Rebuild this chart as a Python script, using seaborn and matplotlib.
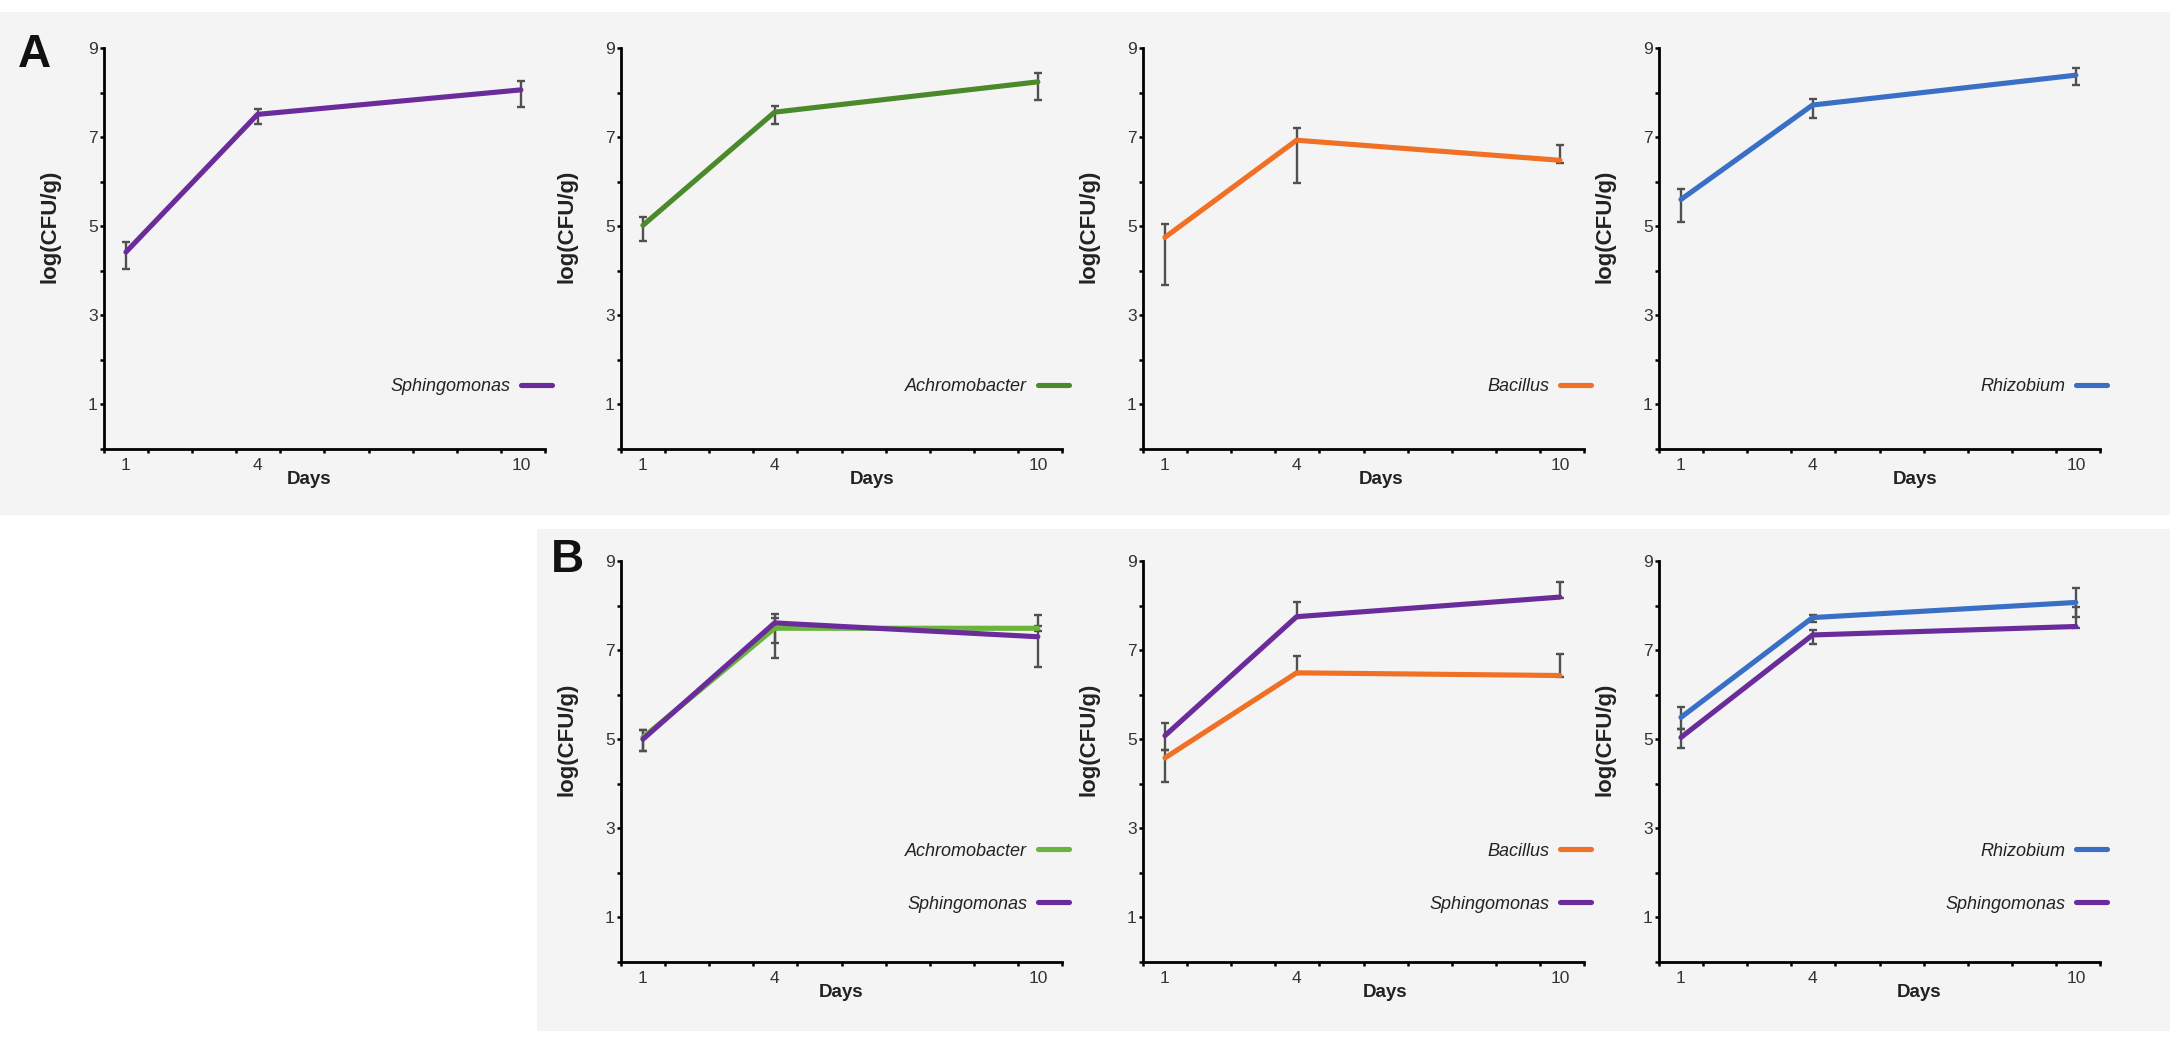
import matplotlib
matplotlib.use("Agg")
import matplotlib.pyplot as plt
import seaborn as sns
import numpy as np
import pandas as pd
from matplotlib.patches import Rectangle

# ---------------- data ----------------
days = [1, 4, 10]
x_tick_labels = ["1", "4", "10"]
y_tick_values = [1, 3, 5, 7, 9]

# Panel A (single strains)
sph_A = [4.42, 7.51, 8.06]
sph_A_lo = [0.37, 0.21, 0.39]
sph_A_hi = [0.23, 0.12, 0.21]

ach_A = [5.02, 7.56, 8.24]
ach_A_lo = [0.35, 0.27, 0.40]
ach_A_hi = [0.19, 0.13, 0.21]

bac_A = [4.75, 6.93, 6.48]
bac_A_lo = [1.06, 0.95, 0.05]
bac_A_hi = [0.29, 0.27, 0.35]

rhi_A = [5.60, 7.72, 8.39]
rhi_A_lo = [0.51, 0.28, 0.23]
rhi_A_hi = [0.24, 0.13, 0.15]

# Panel B (co-cultures with Sphingomonas)
ach_B1 = [5.04, 7.49, 7.49]
ach_B1_lo = [0.30, 0.67, 0.06]
ach_B1_hi = [0.16, 0.24, 0.06]
sph_B1 = [5.00, 7.61, 7.30]
sph_B1_lo = [0.26, 0.44, 0.67]
sph_B1_hi = [0.20, 0.21, 0.48]

bac_B2 = [4.58, 6.49, 6.43]
bac_B2_lo = [0.54, 0.03, 0.03]
bac_B2_hi = [0.18, 0.37, 0.48]
sph_B2 = [5.08, 7.75, 8.19]
sph_B2_lo = [0.32, 0.03, 0.03]
sph_B2_hi = [0.28, 0.32, 0.33]

rhi_B3 = [5.49, 7.73, 8.07]
rhi_B3_lo = [0.26, 0.11, 0.32]
rhi_B3_hi = [0.23, 0.06, 0.32]
sph_B3 = [5.04, 7.34, 7.53]
sph_B3_lo = [0.24, 0.21, 0.03]
sph_B3_hi = [0.19, 0.11, 0.43]

PURPLE = "#6a2c9b"
GREEN_A = "#4a8a2c"
GREEN_B = "#6ab43c"
ORANGE = "#f07126"
BLUE = "#3a6fc6"
BG = "#f4f4f4"
ERR = "#505050"

# ---------------- figure ----------------
sns.set_theme(style="ticks")
plt.rcParams["font.family"] = ["Liberation Sans", "DejaVu Sans"]

W, H = 2170, 1048
fig = plt.figure(figsize=(W / 100, H / 100), dpi=100, facecolor="white")

fig.patches.append(Rectangle((0, 1 - 515 / H), 1, (515 - 12) / H,
                             transform=fig.transFigure, facecolor=BG,
                             edgecolor="none", zorder=-10))
fig.patches.append(Rectangle((537 / W, 1 - 1031 / H), 1 - 537 / W, (1031 - 529) / H,
                             transform=fig.transFigure, facecolor=BG,
                             edgecolor="none", zorder=-10))

AX_W, AX_H = 441, 401
XLIM = (0.5, 10.55)

panels = [
    # left px, top px, xlabel frac, legend y0, series
    (104, 48, 0.465, 0.135, [("Sphingomonas", sph_A, sph_A_lo, sph_A_hi, PURPLE)]),
    (621, 48, 0.57, 0.135, [("Achromobacter", ach_A, ach_A_lo, ach_A_hi, GREEN_A)]),
    (1143, 48, 0.54, 0.135, [("Bacillus", bac_A, bac_A_lo, bac_A_hi, ORANGE)]),
    (1659, 48, 0.58, 0.135, [("Rhizobium", rhi_A, rhi_A_lo, rhi_A_hi, BLUE)]),
    (621, 561, 0.50, 0.123, [("Achromobacter", ach_B1, ach_B1_lo, ach_B1_hi, GREEN_B),
                             ("Sphingomonas", sph_B1, sph_B1_lo, sph_B1_hi, PURPLE)]),
    (1143, 561, 0.55, 0.123, [("Bacillus", bac_B2, bac_B2_lo, bac_B2_hi, ORANGE),
                              ("Sphingomonas", sph_B2, sph_B2_lo, sph_B2_hi, PURPLE)]),
    (1659, 561, 0.59, 0.123, [("Rhizobium", rhi_B3, rhi_B3_lo, rhi_B3_hi, BLUE),
                              ("Sphingomonas", sph_B3, sph_B3_lo, sph_B3_hi, PURPLE)]),
]

for left, top, xlab_frac, leg_y0, series in panels:
    ax = fig.add_axes([left / W, 1 - (top + AX_H) / H, AX_W / W, AX_H / H])
    ax.set_facecolor("none")
    ax.set_zorder(5)

    names = [s[0] for s in series]
    df = pd.DataFrame({
        "Days": [d for s in series for d in days],
        "value": [v for s in series for v in s[1]],
        "species": [s[0] for s in series for _ in days],
    })
    sns.lineplot(data=df, x="Days", y="value", hue="species", hue_order=names,
                 palette={s[0]: s[4] for s in series}, errorbar=None,
                 linewidth=3.7, solid_capstyle="round", legend=False,
                 ax=ax, zorder=3)
    for name, vals, lo, hi, col in series:
        ax.errorbar(days, vals, yerr=[lo, hi], fmt="none", ecolor=ERR,
                    elinewidth=1.7, capsize=2.8, capthick=1.7, zorder=2)

    handles = list(ax.lines[:len(series)])
    ax.legend(handles, names, loc="lower right", bbox_to_anchor=(1.015, leg_y0),
              frameon=False, markerfirst=False,
              prop=dict(style="italic", size=13), labelcolor="#222222",
              handlelength=1.7, handletextpad=0.6, labelspacing=2.0,
              borderpad=0, borderaxespad=0)

    ax.set_xlim(*XLIM)
    ax.set_ylim(0, 9)
    ax.set_xticks(days)
    ax.set_xticklabels(x_tick_labels)
    ax.set_xticks(np.linspace(XLIM[0], XLIM[1], 11), minor=True)
    ax.set_yticks(y_tick_values)
    ax.set_yticks([0, 2, 4, 6, 8], minor=True)
    ax.tick_params(axis="x", which="major", length=0, pad=6.5,
                   labelsize=12.5, labelcolor="#333333")
    ax.tick_params(axis="x", which="minor", length=3, width=1.8,
                   direction="out", color="black")
    ax.tick_params(axis="y", which="both", length=3, width=1.8, pad=1.5,
                   direction="out", color="black",
                   labelsize=12.5, labelcolor="#333333")
    for sp in ("top", "right"):
        ax.spines[sp].set_visible(False)
    for sp in ("left", "bottom"):
        ax.spines[sp].set_linewidth(2.0)
        ax.spines[sp].set_color("black")

    ax.set_ylabel("log(CFU/g)", fontsize=16, fontweight="bold", color="#222222")
    ax.yaxis.set_label_coords(-0.098, 0.556)
    ax.set_xlabel("Days", fontsize=13.5, fontweight="bold", color="#222222")
    ax.xaxis.set_label_coords(xlab_frac, -0.077)
    ax.xaxis.label.set_va("center")

fig.text(18 / W, 1 - 33 / H, "A", fontsize=33, fontweight="bold",
         va="top", ha="left", color="#111111")
fig.text(551 / W, 1 - 538 / H, "B", fontsize=33, fontweight="bold",
         va="top", ha="left", color="#111111")

fig.savefig("out.png", dpi=100, facecolor="white")
